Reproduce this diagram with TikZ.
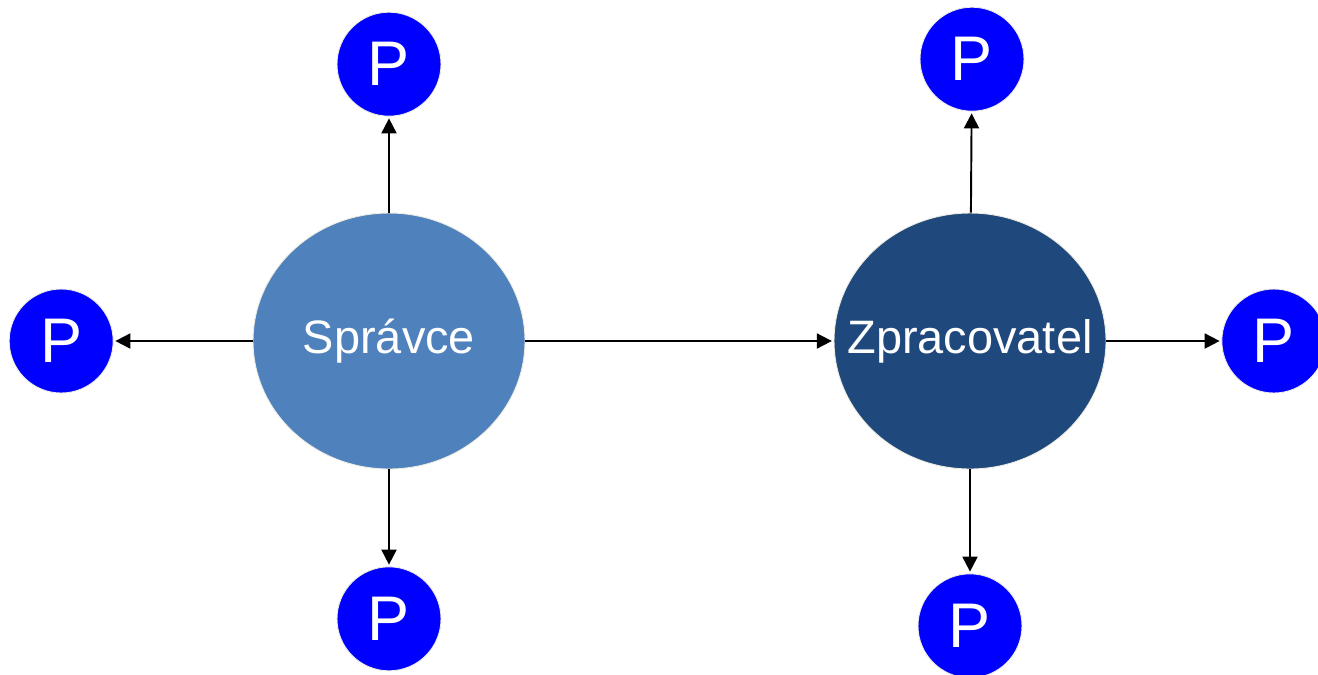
\documentclass[tikz,border=0pt]{standalone}
\usepackage{fontspec}
\setmainfont{Liberation Sans}
\usetikzlibrary{positioning,shapes.geometric,arrows.meta}
\definecolor{spravcecol}{RGB}{79,129,189}
\definecolor{zpracol}{RGB}{31,73,125}
\definecolor{pcol}{RGB}{0,0,255}
\definecolor{rimcol}{RGB}{238,236,225}
\tikzset{
  party/.style={ellipse, draw=rimcol, line width=0.5pt, inner sep=0pt,
    minimum width=5.44cm, minimum height=5.12cm, text=white,
    font=\fontsize{26.7}{30}\selectfont},
  person/.style={circle, draw=rimcol, line width=0.5pt, fill=pcol, inner sep=0pt,
    minimum size=2.08cm, text=white, font=\fontsize{35.9}{40}\selectfont},
  flow/.style={-{Triangle[length=0.3cm,width=0.3cm]}, line width=1.1pt}
}

\begin{document}
\begin{tikzpicture}[x=0.02cm, y=-0.02cm, shorten >= 1pt]
        \useasboundingbox (0,0) rectangle (1318,674);
        \clip (0,0) rectangle (1318,674);

          % Define nodes
          \node[party, fill=spravcecol] (Spravce) at (389,341) {\makebox[0pt]{Správce}};
          \node[party, fill=zpracol] (Zpracovatel) at (970,341) {\makebox[0pt]{Zpracovatel}};

          \node[person, above=1.92cm of Spravce] (SpravceTop) {P};
          \node[person, left=2.78cm of Spravce] (SpravceLeft) {P};
          \node[person, below=1.94cm of Spravce] (SpravceBottom) {P};

          \node[person, above=2.02cm of Zpracovatel, xshift=0.04cm] (ZpracovatelTop) {P};
          \node[person, right=2.3cm of Zpracovatel] (ZpracovatelRight) {P};
          \node[person, below=2.08cm of Zpracovatel] (ZpracovatelBottom) {P};

          % Connect the nodes
          \draw[flow] (Spravce) -- (SpravceTop);
          \draw[flow] (Spravce) -- (SpravceLeft);
          \draw[flow] (Spravce) -- (SpravceBottom);
          \draw[flow] (Spravce) -- (Zpracovatel);
          \draw[flow] (Zpracovatel) -- (ZpracovatelTop);
          \draw[flow] (Zpracovatel) -- (ZpracovatelRight);
          \draw[flow] (Zpracovatel) -- (ZpracovatelBottom);

        \end{tikzpicture}
\end{document}
